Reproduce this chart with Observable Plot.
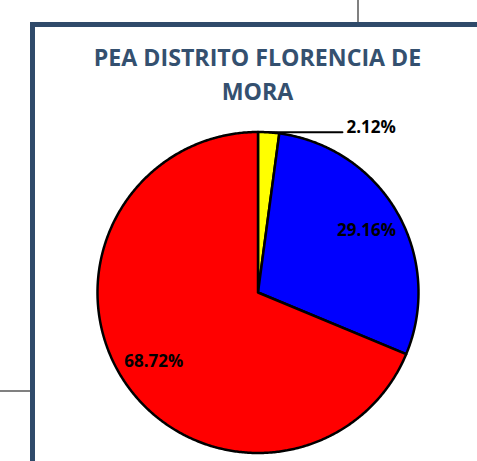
<!DOCTYPE html>
<html>
<head>
<meta charset="utf-8">
<script src="https://cdn.jsdelivr.net/npm/d3@7"></script>
<script src="https://cdn.jsdelivr.net/npm/@observablehq/plot@0.6"></script>
<style>
  html, body { margin: 0; padding: 0; background: #ffffff; }
  #wrap { position: relative; width: 477px; height: 461px; overflow: hidden; background: #fff; }
  #chart { position: absolute; left: 0; top: 0; }
  .deco { position: absolute; background: #808080; }
  #frame { position: absolute; left: 30px; top: 22px; width: 700px; height: 700px;
           border-left: 5px solid #2f4a6a; border-top: 5px solid #2f4a6a; box-sizing: border-box; }
  #title { position: absolute; left: 0; top: 39.5px; width: 515px; text-align: center;
           font-family: "Open Sans", sans-serif; font-weight: 700; font-size: 23.2px;
           line-height: 34px; color: #34506f; white-space: nowrap; }
</style>
</head>
<body>
<div id="wrap">
  <div class="deco" style="left:357px;top:0;width:2px;height:23px;"></div>
  <div class="deco" style="left:0;top:390px;width:31px;height:1.5px;"></div>
  <div id="chart"></div>
  <div id="frame"></div>
  <div id="title">PEA DISTRITO FLORENCIA DE<br>MORA</div>
</div>
<script>
// Data
const categories = ["Segmento 1", "Segmento 2", "Segmento 3"];
const values = [2.12, 29.16, 68.72];
const labels = ["2.12%", "29.16%", "68.72%"];
const colors = ["#FFFF00", "#0000FF", "#FF0000"];

// Slice geometry (clockwise from 12 o'clock)
const total = d3.sum(values);
const slices = [];
let acc = 0;
values.forEach((v, i) => {
  const a0 = acc / total * 2 * Math.PI;
  acc += v;
  const a1 = acc / total * 2 * Math.PI;
  slices.push({cat: categories[i], label: labels[i], color: colors[i], a0, a1, mid: (a0 + a1) / 2});
});

const polyPts = [];
slices.forEach(s => {
  polyPts.push({cat: s.cat, color: s.color, x: 0, y: 0});
  const n = Math.max(2, Math.ceil((s.a1 - s.a0) / (Math.PI / 360)));
  for (let k = 0; k <= n; k++) {
    const a = s.a0 + (s.a1 - s.a0) * k / n;
    polyPts.push({cat: s.cat, color: s.color, x: Math.sin(a), y: Math.cos(a)});
  }
  polyPts.push({cat: s.cat, color: s.color, x: 0, y: 0});
});

// inside labels for large slices, outside label with leader for small one
const inside = slices.filter(s => s.a1 - s.a0 > 0.5).map(s => ({
  label: s.label, x: 0.78 * Math.sin(s.mid), y: 0.78 * Math.cos(s.mid)
}));
const small = slices.filter(s => s.a1 - s.a0 <= 0.5);
const leader = [];
const outside = [];
small.forEach(s => {
  const px = Math.sin(s.mid), py = Math.cos(s.mid);
  leader.push({cat: s.cat, x: px, y: py});
  leader.push({cat: s.cat, x: 0.526, y: py});
  outside.push({label: s.label, x: 0.551, y: py + 0.028});
});

const plot = Plot.plot({
  width: 477,
  height: 461,
  marginLeft: 97,
  marginRight: 59,
  marginTop: 131.5,
  marginBottom: 8.5,
  x: {domain: [-1, 1], axis: null},
  y: {domain: [-1, 1], axis: null},
  color: {type: "identity"},
  style: {background: "transparent", overflow: "visible"},
  marks: [
    Plot.line(polyPts, {x: "x", y: "y", z: "cat", fill: "color", stroke: "#000", strokeWidth: 2.5, strokeLinejoin: "round"}),
    Plot.line(leader, {x: "x", y: "y", z: "cat", stroke: "#000", strokeWidth: 2}),
    Plot.text(inside, {x: "x", y: "y", text: "label", fontFamily: "Open Sans", fontWeight: 700, fontSize: 17, fill: "#000"}),
    Plot.text(outside, {x: "x", y: "y", text: "label", textAnchor: "start", fontFamily: "Open Sans", fontWeight: 700, fontSize: 17, fill: "#000"})
  ]
});
document.getElementById("chart").appendChild(plot);
</script>
</body>
</html>
